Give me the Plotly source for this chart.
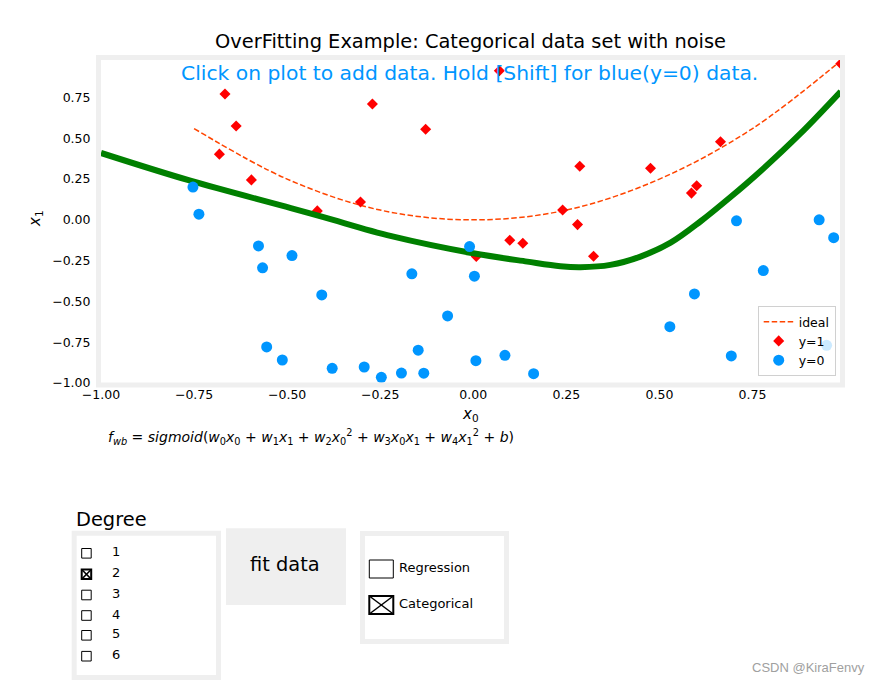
import plotly.graph_objects as go

# ---------------- data ----------------
red_x0 = [-0.667, -0.637, -0.682, -0.596, -0.419, -0.303, -0.271, -0.128, 0.070, 0.286,
          0.476, 0.664, 0.240, 0.280, 0.586, 0.600, 0.987, 0.008, 0.098, 0.133, 0.323]
red_x1 = [0.771, 0.575, 0.403, 0.245, 0.055, 0.110, 0.710, 0.556, 0.914, 0.329,
          0.317, 0.479, 0.060, -0.029, 0.164, 0.209, 0.957, -0.225, -0.125, -0.143, -0.223]

blue_x0 = [-0.753, -0.737, -0.577, -0.566, -0.487, -0.407, -0.555, -0.513, -0.379, -0.293,
           -0.247, -0.193, -0.133, -0.165, -0.069, -0.148, -0.010, 0.003, 0.007, 0.085,
           0.162, 0.528, 0.594, 0.779, 0.693, 0.707, 0.929, 0.968, 0.949]
blue_x1 = [0.201, 0.035, -0.160, -0.294, -0.219, -0.460, -0.779, -0.859, -0.910, -0.902,
           -0.965, -0.939, -0.940, -0.331, -0.589, -0.799, -0.164, -0.345, -0.863, -0.830,
           -0.943, -0.655, -0.454, -0.311, -0.834, -0.006, 0.000, -0.109, -0.769]

ideal_x0 = [-0.75, -0.5, -0.25, 0.0, 0.25, 0.5, 0.75, 1.0]
ideal_x1 = [0.56, 0.25, 0.06, 0.0, 0.06, 0.25, 0.56, 1.0]

fit_x0 = [-1.0, -0.76, -0.49, -0.40, -0.22, 0.0, 0.145, 0.234, 0.288, 0.368, 0.449,
          0.53, 0.61, 0.691, 0.772, 0.879, 0.987]
fit_x1 = [0.41, 0.24, 0.072, 0.015, -0.10, -0.205, -0.256, -0.284, -0.29, -0.276, -0.225,
          -0.14, -0.01, 0.14, 0.30, 0.53, 0.787]

x_ticks = [-1.0, -0.75, -0.5, -0.25, 0.0, 0.25, 0.5, 0.75]
y_ticks = [-1.0, -0.75, -0.5, -0.25, 0.0, 0.25, 0.5, 0.75]

degree_options = ["1", "2", "3", "4", "5", "6"]
degree_checked = "2"
mode_options = ["Regression", "Categorical"]
mode_checked = "Categorical"

# ---------------- layout geometry ----------------
# the page body adds an 8px offset, so the figure is 8px smaller
BODY = 8
FW, FH = 883 - BODY, 685 - BODY
L, T, W, H = 101, 60, 739, 323      # plot area in window pixels
B = T + H


def pxx(x):
    return (x - L) / W


def pxy(y):
    return (B - y) / H


FONT = "DejaVu Sans"
GRAY = "#efefef"

fig = go.Figure()

fig.add_trace(go.Scatter(
    x=ideal_x0, y=ideal_x1, mode="lines", name="ideal",
    line=dict(color="#ff4500", width=1.5, dash="5.5px,2.5px", shape="spline"),
))
fig.add_trace(go.Scatter(
    x=red_x0, y=red_x1, mode="markers", name="y=1",
    marker=dict(symbol="diamond", size=8.5, color="red", line=dict(width=0)),
))
fig.add_trace(go.Scatter(
    x=fit_x0, y=fit_x1, mode="lines", showlegend=False,
    line=dict(color="green", width=6, shape="spline"),
))
fig.add_trace(go.Scatter(
    x=blue_x0, y=blue_x1, mode="markers", name="y=0",
    marker=dict(symbol="circle", size=11, color="#0096ff", line=dict(width=0)),
))

shapes = []
annotations = []

# frame around the plot
shapes.append(dict(type="rect", xref="paper", yref="paper",
                   x0=pxx(98.5), x1=pxx(842.5), y0=pxy(385), y1=pxy(57.5),
                   line=dict(color=GRAY, width=5), layer="above"))

# title and instruction
annotations.append(dict(text="OverFitting Example: Categorical data set with noise",
                        x=pxx(470), y=pxy(41), xref="paper", yref="paper",
                        showarrow=False, xanchor="center", yanchor="middle",
                        font=dict(family=FONT, size=19.4, color="black")))
annotations.append(dict(text="Click on plot to add data. Hold [Shift] for blue(y=0) data.",
                        x=pxx(469.5), y=pxy(73), xref="paper", yref="paper",
                        showarrow=False, xanchor="center", yanchor="middle",
                        font=dict(family=FONT, size=20.3, color="#0096ff")))

# axis labels
annotations.append(dict(text="<i>x</i><sub>0</sub>", x=pxx(470), y=pxy(414),
                        xref="paper", yref="paper", showarrow=False,
                        xanchor="center", yanchor="middle",
                        font=dict(family=FONT, size=15, color="black")))
annotations.append(dict(text="<i>x</i><sub>1</sub>", x=pxx(35), y=pxy(219),
                        xref="paper", yref="paper", showarrow=False, textangle=-90,
                        xanchor="center", yanchor="middle",
                        font=dict(family=FONT, size=15, color="black")))

# formula
formula = ("<i>f</i><sub><i>wb</i></sub> = <i>sigmoid</i>("
           "<i>w</i><sub>0</sub><i>x</i><sub>0</sub> + "
           "<i>w</i><sub>1</sub><i>x</i><sub>1</sub> + "
           "<i>w</i><sub>2</sub><i>x</i><sub>0</sub><sup>2</sup> + "
           "<i>w</i><sub>3</sub><i>x</i><sub>0</sub><i>x</i><sub>1</sub> + "
           "<i>w</i><sub>4</sub><i>x</i><sub>1</sub><sup>2</sup> + <i>b</i>)")
annotations.append(dict(text=formula, x=pxx(106), y=pxy(437), xref="paper", yref="paper",
                        showarrow=False, xanchor="left", yanchor="middle",
                        font=dict(family=FONT, size=14, color="black")))

# Degree widget
annotations.append(dict(text="Degree", x=pxx(74), y=pxy(519), xref="paper", yref="paper",
                        showarrow=False, xanchor="left", yanchor="middle",
                        font=dict(family=FONT, size=19.4, color="black")))
shapes.append(dict(type="rect", xref="paper", yref="paper",
                   x0=pxx(74.2), x1=pxx(218.5), y0=pxy(677.5), y1=pxy(533.2),
                   line=dict(color=GRAY, width=5), fillcolor="white"))
row_y = [553.3, 574.3, 595, 615.5, 635.3, 656.2]
for lab, cy in zip(degree_options, row_y):
    checked = lab == degree_checked
    shapes.append(dict(type="rect", xref="paper", yref="paper",
                       x0=pxx(81.7), x1=pxx(91.2), y0=pxy(cy + 4.8), y1=pxy(cy - 4.8),
                       line=dict(color="black", width=2 if checked else 1)))
    if checked:
        shapes.append(dict(type="line", xref="paper", yref="paper",
                           x0=pxx(81.7), x1=pxx(91.2), y0=pxy(cy + 4.8), y1=pxy(cy - 4.8),
                           line=dict(color="black", width=1.5)))
        shapes.append(dict(type="line", xref="paper", yref="paper",
                           x0=pxx(81.7), x1=pxx(91.2), y0=pxy(cy - 4.8), y1=pxy(cy + 4.8),
                           line=dict(color="black", width=1.5)))
    annotations.append(dict(text=lab, x=pxx(109.5), y=pxy(cy - 1.5), xref="paper", yref="paper",
                            showarrow=False, xanchor="left", yanchor="middle",
                            font=dict(family=FONT, size=13, color="black")))

# fit data button
shapes.append(dict(type="rect", xref="paper", yref="paper",
                   x0=pxx(226), x1=pxx(346), y0=pxy(605), y1=pxy(528.3),
                   line=dict(width=0), fillcolor=GRAY))
annotations.append(dict(text="fit data", x=pxx(285), y=pxy(564), xref="paper", yref="paper",
                        showarrow=False, xanchor="center", yanchor="middle",
                        font=dict(family=FONT, size=19.4, color="black")))

# Regression / Categorical widget
shapes.append(dict(type="rect", xref="paper", yref="paper",
                   x0=pxx(362.5), x1=pxx(506.5), y0=pxy(641.5), y1=pxy(533.5),
                   line=dict(color=GRAY, width=5), fillcolor="white"))
mode_y = [569, 605]
for lab, cy in zip(mode_options, mode_y):
    checked = lab == mode_checked
    shapes.append(dict(type="rect", xref="paper", yref="paper",
                       x0=pxx(369.3), x1=pxx(393.3), y0=pxy(cy + 9), y1=pxy(cy - 9),
                       line=dict(color="black", width=2 if checked else 1)))
    if checked:
        shapes.append(dict(type="line", xref="paper", yref="paper",
                           x0=pxx(369.3), x1=pxx(393.3), y0=pxy(cy + 9), y1=pxy(cy - 9),
                           line=dict(color="black", width=1.5)))
        shapes.append(dict(type="line", xref="paper", yref="paper",
                           x0=pxx(369.3), x1=pxx(393.3), y0=pxy(cy - 9), y1=pxy(cy + 9),
                           line=dict(color="black", width=1.5)))
    annotations.append(dict(text=lab, x=pxx(396.5), y=pxy(cy - 1.5), xref="paper", yref="paper",
                            showarrow=False, xanchor="left", yanchor="middle",
                            font=dict(family=FONT, size=13, color="black")))

# watermark
annotations.append(dict(text="CSDN @KiraFenvy", x=pxx(867), y=pxy(667), xref="paper", yref="paper",
                        showarrow=False, xanchor="right", yanchor="middle",
                        font=dict(family="Liberation Sans", size=13, color="#a0a0a0")))

fig.update_layout(
    width=FW, height=FH,
    margin=dict(l=L - BODY, r=FW - (L - BODY) - W, t=T - BODY, b=FH - (T - BODY) - H, pad=0),
    paper_bgcolor="white", plot_bgcolor="white",
    font=dict(family=FONT, size=12.5, color="black"),
    showlegend=True,
    legend=dict(x=pxx(835.7), y=pxy(376), xanchor="right", yanchor="bottom",
                bgcolor="rgba(255,255,255,0.8)", bordercolor="#d0d0d0", borderwidth=1,
                font=dict(family=FONT, size=12.5, color="black"),
                itemsizing="trace", tracegroupgap=0),
    shapes=shapes, annotations=annotations,
    xaxis=dict(range=[-1.0, 0.985], tickvals=x_ticks, tickformat=".2f",
               showgrid=False, zeroline=False, showline=False,
               ticks="outside", ticklen=0, tickcolor="rgba(0,0,0,0)",
               tickfont=dict(family=FONT, size=12.5, color="black"), fixedrange=True),
    yaxis=dict(range=[-1.0, 0.98], tickvals=y_ticks, tickformat=".2f",
               showgrid=False, zeroline=False, showline=False,
               ticks="outside", ticklen=7, tickcolor="rgba(0,0,0,0)",
               tickfont=dict(family=FONT, size=12.5, color="black"), fixedrange=True),
)

fig.write_html("out.html")
